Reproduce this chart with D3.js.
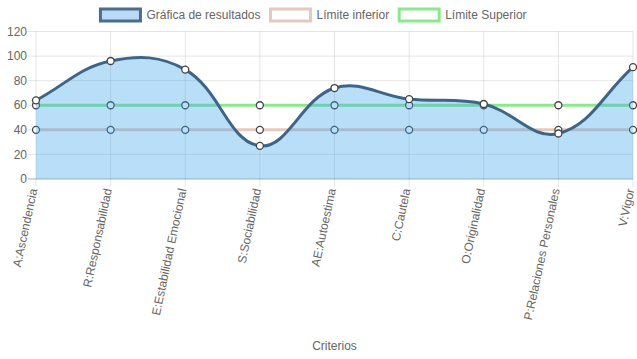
<!DOCTYPE html>
<html><head><meta charset="utf-8">
<script src="https://cdn.jsdelivr.net/npm/d3@7/dist/d3.min.js"></script>
<style>body{margin:0;background:#fff}svg{display:block}text{font-family:"Liberation Sans",Arial,Helvetica,sans-serif}</style>
</head><body><svg id="c" width="637" height="359"></svg>
<script>
const categories = ["A:Ascendencia","R:Responsabilidad","E:Estabilidad Emocional","S:Sociabilidad","AE:Autoestima","C:Cautela","O:Originalidad","P:Relaciones Personales","V:Vigor"];
const resultados = [64, 96, 89, 27, 74, 65, 61, 37, 91];
const inferior = [40, 40, 40, 40, 40, 40, 40, 40, 40];
const superior = [60, 60, 60, 60, 60, 60, 60, 60, 60];
const yTicks = [0, 20, 40, 60, 80, 100, 120];
const seriesNames = ["Gráfica de resultados", "Límite inferior", "Límite Superior"];
const axisTitle = "Criterios";

const svg = d3.select("#c");
const L = 36, R = 633, T = 31.5, B = 179;
const x = d3.scalePoint().domain(categories).range([L, R]);
const y = d3.scaleLinear().domain([0, 120]).range([B, T]);
const grid = "rgba(0,0,0,0.1)";

// grid
const g = svg.append("g");
yTicks.forEach(t => {
  g.append("line").attr("x1", L - 8).attr("x2", R).attr("y1", y(t)).attr("y2", y(t))
    .attr("stroke", t === 0 ? "rgba(0,0,0,0.15)" : grid).attr("stroke-width", t === 0 ? 2 : 1);
  g.append("text").attr("x", L - 9).attr("y", y(t)).attr("dy", "0.35em").attr("text-anchor", "end")
    .attr("font-size", 12).attr("fill", "#666").text(t);
});
categories.forEach(c => {
  g.append("line").attr("x1", x(c)).attr("x2", x(c)).attr("y1", T).attr("y2", B + 8)
    .attr("stroke", grid).attr("stroke-width", 1);
  g.append("text").attr("transform", `translate(${x(c) - 1},${B + 10}) rotate(-78)`)
    .attr("text-anchor", "end").attr("dy", "0.2em").attr("font-size", 12).attr("fill", "#666").text(c);
});
svg.append("text").attr("x", (L + R) / 2).attr("y", 350).attr("text-anchor", "middle")
  .attr("font-size", 12).attr("fill", "#666").text(axisTitle);

// Chart.js-style spline
function splinePath(vals, withArea) {
  const pts = vals.map((v, i) => ({x: x(categories[i]), y: y(v)}));
  const t = 0.4;
  const cps = pts.map((p, i) => {
    const prev = pts[i - 1] || p, next = pts[i + 1] || p;
    const d01 = Math.hypot(p.x - prev.x, p.y - prev.y), d12 = Math.hypot(next.x - p.x, next.y - p.y);
    let s01 = d01 / (d01 + d12), s12 = d12 / (d01 + d12);
    if (isNaN(s01)) s01 = 0; if (isNaN(s12)) s12 = 0;
    const fa = t * s01, fb = t * s12;
    const cap = (px, py) => ({x: Math.max(L, Math.min(R, px)), y: Math.max(T, Math.min(B, py))});
    return {
      prev: cap(p.x - fa * (next.x - prev.x), p.y - fa * (next.y - prev.y)),
      next: cap(p.x + fb * (next.x - prev.x), p.y + fb * (next.y - prev.y))
    };
  });
  const path = d3.path();
  path.moveTo(pts[0].x, pts[0].y);
  for (let i = 1; i < pts.length; i++) {
    path.bezierCurveTo(cps[i - 1].next.x, cps[i - 1].next.y, cps[i].prev.x, cps[i].prev.y, pts[i].x, pts[i].y);
  }
  if (withArea) {
    path.lineTo(pts[pts.length - 1].x, y(0));
    path.lineTo(pts[0].x, y(0));
    path.closePath();
  }
  return {d: path.toString(), pts};
}

function drawSeries(vals, color, fill) {
  const grp = svg.append("g");
  if (fill) grp.append("path").attr("d", splinePath(vals, true).d).attr("fill", fill);
  const sp = splinePath(vals, false);
  grp.append("path").attr("d", sp.d).attr("fill", "none").attr("stroke", color).attr("stroke-width", 3);
  grp.selectAll("circle").data(sp.pts).join("circle").attr("cx", d => d.x).attr("cy", d => d.y)
    .attr("r", 3.5).attr("fill", "#fff").attr("stroke", "#444").attr("stroke-width", 1.3);
}
drawSeries(superior, "#8de88d", null);
drawSeries(inferior, "#e6c8bc", null);
drawSeries(resultados, "#3e6587", "rgba(54,162,235,0.35)");

// legend
const legendItems = [
  {name: seriesNames[0], fill: "#b9dbf7", stroke: "#4a6d8e"},
  {name: seriesNames[1], fill: "#fff", stroke: "#e6c8bc"},
  {name: seriesNames[2], fill: "#fff", stroke: "#8de88d"}
];
const lg = svg.append("g");
const widths = legendItems.map(it => {
  const tt = lg.append("text").attr("font-size", 12).text(it.name);
  const w = tt.node().getComputedTextLength(); tt.remove(); return w;
});
const total = d3.sum(widths) + legendItems.length * (46 + 10);
let lx = 637 / 2 - total / 2;
legendItems.forEach((it, i) => {
  lg.append("rect").attr("x", lx).attr("y", 9).attr("width", 40).attr("height", 12)
    .attr("fill", it.fill).attr("stroke", it.stroke).attr("stroke-width", 3);
  lg.append("text").attr("x", lx + 46).attr("y", 15).attr("dy", "0.35em").attr("font-size", 12)
    .attr("fill", "#666").text(it.name);
  lx += 46 + widths[i] + 10;
});
</script></body></html>
